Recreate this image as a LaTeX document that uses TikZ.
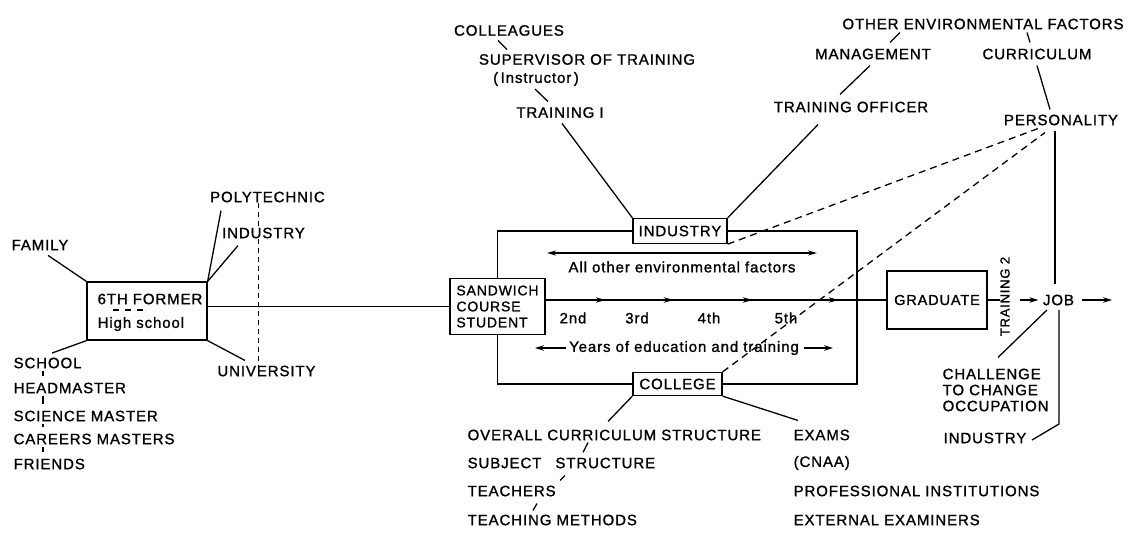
\documentclass[tikz,border=0pt]{standalone}
\usepackage{fontspec}
\setmainfont{Liberation Sans}[LetterSpace=6, FakeBold=1.2]
\usetikzlibrary{arrows.meta,decorations.markings,backgrounds}

\begin{document}
\begin{tikzpicture}[x=1pt,y=-1pt,
  line width=1.3pt,
  lbl/.style={inner sep=0pt, font=\fontsize{15}{16}\selectfont},
  lbll/.style={lbl, anchor=west},
  box/.style={draw, inner sep=0pt, line width=1.3pt, font=\fontsize{15}{16}\selectfont},
  onearrow/.style={-{Stealth[length=9pt,width=5.5pt]}},
  twoarrow/.style={{Stealth[length=9pt,width=5pt]}-{Stealth[length=9pt,width=5pt]}},
  dashlink/.style={dash pattern=on 7pt off 5pt},
  tickdash/.style={dash pattern=on 5pt off 4pt},
  midarrows/.style={postaction={decorate}, decoration={markings,
    mark=at position 60pt with {\arrow{Stealth[length=10pt,width=5.5pt]}},
    mark=at position 128pt with {\arrow{Stealth[length=10pt,width=5.5pt]}},
    mark=at position 207pt with {\arrow{Stealth[length=10pt,width=5.5pt]}},
    mark=at position 293pt with {\arrow{Stealth[length=10pt,width=5.5pt]}}}},
]
\useasboundingbox (0,0) rectangle (1137,533);

% ---------- left cluster: the sixth former ----------
\node[box, minimum width=120pt, minimum height=58pt] (former) at (147,311) {};
\node[lbll] (formertop) at (97,299) {6TH FORMER};
\node[lbll] (formerbot) at (97,324) {High school};
\draw[line width=1.1pt, dash pattern=on 6pt off 6pt] (113,310) -- (143,310);

\node[lbl] (family) at (40,245) {FAMILY};
\node[lbll] (school) at (13,363) {SCHOOL};
\node[lbll] (headmaster) at (13,388) {HEADMASTER};
\node[lbll] (science) at (13,416) {SCIENCE MASTER};
\node[lbll] (careers) at (13,439) {CAREERS MASTERS};
\node[lbll] (friends) at (13,464) {FRIENDS};
\node[lbl] (poly) at (267.5,197) {POLYTECHNIC};
\node[lbl, fill=white] (indl) at (263.5,233) {INDUSTRY};
\node[lbl] (univ) at (266.5,371) {UNIVERSITY};

\draw (former.north west) -- ([shift={(8pt,-4.6pt)}]family.south);
\draw (former.south west) -- ([shift={(39pt,4pt)}]school.north west);
\draw ([shift={(30pt,-2pt)}]school.south west) -- ([shift={(30pt,6pt)}]headmaster.north west);
\draw ([shift={(30pt,-2pt)}]headmaster.south west) -- ([shift={(30pt,6pt)}]science.north west);
\draw ([shift={(30pt,-2pt)}]science.south west) -- ([shift={(30pt,6pt)}]careers.north west);
\draw ([shift={(30pt,-2pt)}]careers.south west) -- ([shift={(30pt,6pt)}]friends.north west);
\draw (former.north east) -- ([shift={(-46.5pt,-7.6pt)}]poly.south);
\draw (former.north east) -- ([shift={(-25.5pt,-6.6pt)}]indl.south);
\draw (former.south east) -- ([shift={(-21.5pt,4.6pt)}]univ.north);

\coordinate (vx) at (258,0);
\begin{scope}[on background layer]
  \fill[white] (0,0) rectangle (1137,533);
  \draw[tickdash] (vx |- poly.south) -- (vx |- univ.north);
\end{scope}

% ---------- the sandwich course ----------
\node[box, minimum width=95pt, minimum height=56pt, align=left,
      font=\fontsize{14}{16}\selectfont] (sandwich) at (497.5,306.5) {SANDWICH\\COURSE\\STUDENT};
\node[box, minimum width=94pt, minimum height=25pt] (industry) at (680,231) {INDUSTRY};
\node[box, minimum width=89pt, minimum height=23pt] (college) at (677.5,384) {COLLEGE};
\node[box, minimum width=100pt, minimum height=58pt,
      font=\fontsize{14.5}{16}\selectfont] (graduate) at (937,300) {GRADUATE};

\draw (former.east |- sandwich.west) -- (sandwich.west);

\coordinate (rr) at (857,300);
\draw (industry.west) -| (sandwich.north);
\draw (sandwich.south) |- (college.west);
\draw (college.east) -| (rr) |- (industry.east);

\draw[midarrows] (sandwich.east |- graduate.west) -- (graduate.west);
\node[lbl] (y2) at (573,318) {2nd};
\node[lbl] (y3) at (637,318) {3rd};
\node[lbl] (y4) at (709,318) {4th};
\node[lbl] (y5) at (786,318) {5th};

\node[lbl] (allother) at (682,267) {All other environmental factors};
\coordinate (envl) at (547,253);
\coordinate (envr) at (817,253);
\draw[twoarrow] (envl) -- (envr);

\node[lbl] (years) at (684,348) {Years of education and training};
\coordinate (yrl) at (535,348);
\coordinate (yrr) at (833,348);
\draw[onearrow] ([xshift=-3pt]years.west) -- (yrl);
\draw[onearrow] ([xshift=5pt]years.east) -- (yrr);

% ---------- industrial side ----------
\node[lbl] (colleagues) at (509,30.5) {COLLEAGUES};
\node[lbl] (supervisor) at (587,59.5) {SUPERVISOR OF TRAINING};
\node[lbl] (instructor) at (536,79) {(\,Instructor\,)};
\node[lbl] (training1) at (560,112.5) {TRAINING I};
\node[lbl] (other) at (983,24) {OTHER ENVIRONMENTAL FACTORS};
\node[lbl] (management) at (873,54) {MANAGEMENT};
\node[lbl] (officer) at (851,107) {TRAINING OFFICER};
\node[lbl] (curriculum) at (1037,54) {CURRICULUM};
\node[lbl] (personality) at (1061,120) {PERSONALITY};

\draw ([shift={(-11pt,-4pt)}]colleagues.south) -- ([shift={(-80pt,4pt)}]supervisor.north);
\draw ([shift={(-1pt,-2.4pt)}]instructor.south) -- ([shift={(-12pt,5pt)}]training1.north);
\draw ([shift={(2pt,-5pt)}]training1.south) -- (industry.north west);
\draw (industry.north east) -- ([shift={(-33pt,-11.6pt)}]officer.south);
\draw ([shift={(-83pt,-2.6pt)}]other.south) -- ([shift={(17pt,5.6pt)}]management.north);
\draw ([shift={(-3pt,-5.6pt)}]management.south) -- ([shift={(-11pt,6.6pt)}]officer.north);
\draw ([shift={(44pt,-2.6pt)}]other.south) -- ([shift={(-7pt,5.6pt)}]curriculum.north);
\draw ([shift={(0pt,-5.6pt)}]curriculum.south) -- ([shift={(-11pt,4.6pt)}]personality.north);

\draw[dashlink] (industry.south east) -- ([shift={(-23pt,-2.6pt)}]personality.south);
\draw[dashlink] (college.north east) -- ([shift={(-16pt,-6.6pt)}]personality.south);

% ---------- after graduation ----------
\node[lbl, rotate=90, font=\fontsize{13}{14}\selectfont] (training2) at (1005,296.5) {TRAINING 2};
\node[lbl] (job) at (1058.5,300) {JOB};
\node[lbl, align=left, anchor=west] (challenge) at (942,390) {CHALLENGE\\TO CHANGE\\OCCUPATION};
\node[lbl] (indr) at (985,438) {INDUSTRY};

\draw (graduate.east) -- (graduate.east -| training2.north);
\path (training2.south |- job.west) ++(10,0) coordinate (t2r);
\draw[onearrow] (t2r) -- ([xshift=-4pt]job.west);
\coordinate (jobout) at (1112,300);
\draw[onearrow] ([xshift=7pt]job.east) -- (jobout);

\draw ([shift={(-6pt,-4.6pt)}]personality.south) -- ([shift={(-3.5pt,9.6pt)}]job.north);
\coordinate (jbend) at (1059,424);
\draw ([shift={(0.5pt,-4pt)}]job.south) -- (jbend) -- ([shift={(5pt,-2pt)}]indr.east);
\draw ([shift={(-11.5pt,-4pt)}]job.south) -- ([shift={(56pt,10.6pt)}]challenge.north west);

% ---------- college side ----------
\node[lbll] (overall) at (467,435) {OVERALL CURRICULUM STRUCTURE};
\node[lbll] (subject) at (467,463) {SUBJECT\hspace{9pt} STRUCTURE};
\node[lbll] (teachers) at (467,491) {TEACHERS};
\node[lbll] (methods) at (467,520) {TEACHING METHODS};
\node[lbll] (exams) at (793,435) {EXAMS};
\node[lbll] (cnaa) at (793,463) {(CNAA)};
\node[lbll] (profinst) at (793,491) {PROFESSIONAL INSTITUTIONS};
\node[lbll] (extexam) at (793,520) {EXTERNAL EXAMINERS};

\draw (college.south west) -- ([shift={(141pt,7.6pt)}]overall.north west);
\draw ([shift={(121pt,-1.6pt)}]overall.south west) -- ([shift={(116pt,4.6pt)}]subject.north west);
\draw ([shift={(98pt,-6.6pt)}]subject.south west) -- ([shift={(93pt,4.6pt)}]teachers.north west);
\draw ([shift={(70pt,-6.6pt)}]teachers.south west) -- ([shift={(66pt,3.6pt)}]methods.north west);
\draw (college.south east) -- ([shift={(5pt,8.6pt)}]exams.north west);

\end{tikzpicture}
\end{document}
